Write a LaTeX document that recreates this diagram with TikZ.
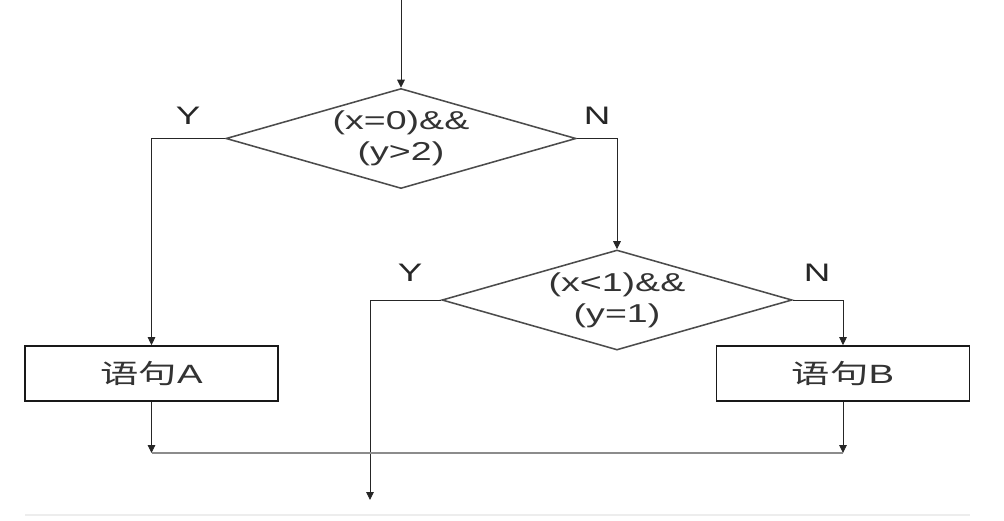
\documentclass[tikz,border=0pt]{standalone}
\usepackage{fontspec}
\setmainfont{Liberation Sans}[FakeStretch=1.45]
\newfontfamily\cjk{Noto Sans CJK SC}[FakeStretch=1.45]
\usetikzlibrary{
    arrows.meta,
    positioning,
    shadows,
    shapes.geometric
}
\tikzset{
    flow/.style={-{Triangle[length=2mm, width=1.9mm]}, line width=0.6pt, black!85},
    merge/.style={line width=1.1pt, black!45},
    decision/.style={diamond, draw=black!70, line width=1.1pt, inner sep=0pt,
        aspect=3.5, minimum width=8.75cm, minimum height=2.5cm, align=center,
        font=\fontsize{18.4}{22}\selectfont, text=black!80},
    stmt/.style={rectangle, draw=black!90, line width=1.1pt, fill=white,
        minimum width=6.33cm, minimum height=1.38cm,
        drop shadow={shadow xshift=0.4pt, shadow yshift=-0.8pt, fill=black!45, opacity=1},
        font=\fontsize{18.8}{22}\selectfont, text=black!80},
    answer/.style={font=\fontsize{18}{22}\selectfont, text=black!85}
}

\begin{document}
\begin{tikzpicture}[x=0.025cm, y=-0.025cm]
    \useasboundingbox (0,0) rectangle (1004,520);
    \coordinate (entry) at (401,0);
    \node[decision] (cond1) at (401,138.5) {(x=0)\&\&\\(y>2)};
    \node[decision] (cond2) at (617,300) {(x<1)\&\&\\(y=1)};
    \node[stmt] (stmtA) at (151.5,373.5) {{\cjk 语句}A};
    \node[stmt] (stmtB) at (843,373.5) {{\cjk 语句}B};
    \node[answer] (yes1) at (188,116) {Y};
    \node[answer] (no1) at (597,116) {N};
    \node[answer] (yes2) at (410,273) {Y};
    \node[answer] (no2) at (817,273) {N};
    \coordinate (exitY) at (370,500);
    \coordinate (joinA) at (151.5,453);
    \coordinate (joinB) at (843,453);

    \draw[flow] (entry) -- (cond1.north);
    \draw[flow] (cond1.west) -| (stmtA.north);
    \draw[flow] (cond1.east) -| (cond2.north);
    \draw[flow] (cond2.west) -| (exitY);
    \draw[flow] (cond2.east) -| (stmtB.north);
    \draw[flow] (stmtA.south) -- (joinA);
    \draw[flow] (stmtB.south) -- (joinB);
    \draw[merge] (joinA) -- (joinB);

    % faint rule at the foot
    \draw[black!7, line width=1.2pt] (25,515) -- (970,515);
\end{tikzpicture}
\end{document}
